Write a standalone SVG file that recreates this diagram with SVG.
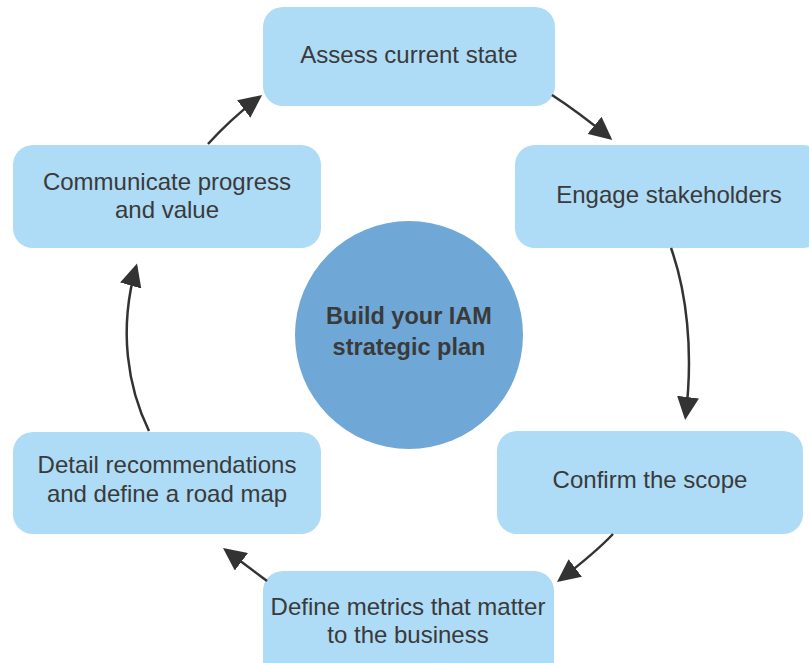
<svg xmlns="http://www.w3.org/2000/svg" width="809" height="663" viewBox="0 0 809 663">
<style>
.box{fill:#aedbf5}
.t{font-family:"Liberation Sans",Arial,sans-serif;font-size:24px;fill:#3a3a3a;text-anchor:middle}
.b{font-weight:bold;font-size:23.5px}
.c{fill:none;stroke:#333;stroke-width:2.5}
</style>
<defs>
<marker id="ah" markerUnits="userSpaceOnUse" viewBox="0 0 23 22" markerWidth="23" markerHeight="22" refX="20" refY="11" orient="auto">
<path d="M0,0 L23,11 L0,22 z" fill="#333"/>
</marker>
</defs>
<rect width="809" height="663" fill="#fff"/>
<g id="center">
<circle cx="409" cy="335" r="114" fill="#6fa8d6"/>
<text class="t b" x="409" y="324">Build your IAM</text>
<text class="t b" x="409" y="355">strategic plan</text>
</g>
<g id="assess">
<rect class="box" x="263" y="7" width="292" height="99" rx="20"/>
<text class="t" x="409" y="63">Assess current state</text>
</g>
<g id="engage">
<rect class="box" x="515" y="145" width="308" height="103" rx="20"/>
<text class="t" x="669" y="203">Engage stakeholders</text>
</g>
<g id="confirm">
<rect class="box" x="497" y="431" width="306" height="103" rx="20"/>
<text class="t" x="650" y="488">Confirm the scope</text>
</g>
<g id="define">
<rect class="box" x="263" y="571" width="291" height="110" rx="20"/>
<text class="t" x="408" y="615">Define metrics that matter</text>
<text class="t" x="408" y="643">to the business</text>
</g>
<g id="detail">
<rect class="box" x="13" y="432" width="308" height="102" rx="20"/>
<text class="t" x="167" y="473">Detail recommendations</text>
<text class="t" x="167" y="502">and define a road map</text>
</g>
<g id="communicate">
<rect class="box" x="13" y="145" width="308" height="103" rx="20"/>
<text class="t" x="167" y="190">Communicate progress</text>
<text class="t" x="167" y="218">and value</text>
</g>
<g id="connectors">
<path class="c" marker-end="url(#ah)" d="M552,95 Q579,112.5 610,138"/>
<path class="c" marker-end="url(#ah)" d="M671,248 C686,290 694,350 685.5,417"/>
<path class="c" marker-end="url(#ah)" d="M613,534 Q595,553 559.4,580.2"/>
<path class="c" marker-end="url(#ah)" d="M267,581 Q247,566 225.4,549.8"/>
<path class="c" marker-end="url(#ah)" d="M149,431 C128,388 118,330 136.2,266.3"/>
<path class="c" marker-end="url(#ah)" d="M208,144 Q231,118.5 259.7,96.9"/>
</g>
</svg>
